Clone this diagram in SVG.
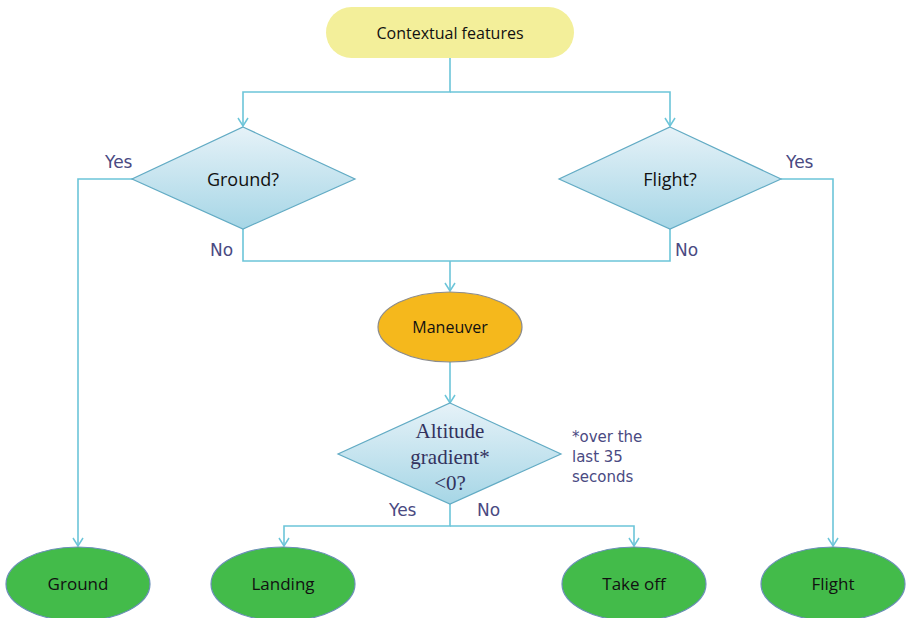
<svg xmlns="http://www.w3.org/2000/svg" width="906" height="618" viewBox="0 0 906 618">
  <defs>
    <linearGradient id="diamondFill" x1="0" y1="0" x2="0" y2="1">
      <stop offset="0" stop-color="#e6f2f8"/>
      <stop offset="1" stop-color="#a6d6e6"/>
    </linearGradient>
    <marker id="arrowDown" viewBox="0 0 12 12" refX="6" refY="11" markerWidth="12" markerHeight="12" markerUnits="userSpaceOnUse" orient="0">
      <path d="M1,3 L6,11 L11,3" fill="none" stroke="#6cc5d9" stroke-width="1.5"/>
    </marker>
  </defs>
  <style>
    .conn { fill: none; stroke: #6cc5d9; stroke-width: 1.6; }
    .diamond { fill: url(#diamondFill); stroke: #62abc4; stroke-width: 1.2; }
    .leaf { fill: #43bb4a; stroke: #6b8fb8; stroke-width: 1.2; }
    .label { font-family: "Open Sans", "Liberation Sans", sans-serif; fill: #111; text-anchor: middle; }
    .branch { font-family: "DejaVu Sans", "Liberation Sans", sans-serif; font-size: 17px; fill: #4a4a82; }
    .note { font-family: "DejaVu Sans", "Liberation Sans", sans-serif; font-size: 15px; fill: #4a4a82; }
    .serif { font-family: "Liberation Serif", serif; font-size: 21px; fill: #33335e; text-anchor: middle; }
  </style>

  <!-- connectors and their branch labels -->
  <g id="connectors">
    <path class="conn" d="M450,58 V92 H243 V126" marker-end="url(#arrowDown)"/>
    <path class="conn" d="M450,92 H670 V126" marker-end="url(#arrowDown)"/>
    <path class="conn" d="M133,179 H78 V546" marker-end="url(#arrowDown)"/>
    <path class="conn" d="M781,179 H833 V546" marker-end="url(#arrowDown)"/>
    <path class="conn" d="M243,229 V261 H670 V229"/>
    <path class="conn" d="M450,261 V291" marker-end="url(#arrowDown)"/>
    <path class="conn" d="M450,362 V403" marker-end="url(#arrowDown)"/>
    <path class="conn" d="M450,504 V526 H284 V546" marker-end="url(#arrowDown)"/>
    <path class="conn" d="M450,526 H634 V546" marker-end="url(#arrowDown)"/>
    <text class="branch" x="105" y="168">Yes</text>
    <text class="branch" x="786" y="168">Yes</text>
    <text class="branch" x="210" y="256">No</text>
    <text class="branch" x="675" y="256">No</text>
    <text class="branch" x="389" y="516">Yes</text>
    <text class="branch" x="477" y="516">No</text>
  </g>

  <g id="contextual-features">
    <rect x="326" y="7" width="248" height="51" rx="25.5" fill="#f3ef9a"/>
    <text class="label" x="450" y="39" font-size="16">Contextual features</text>
  </g>

  <g id="ground-decision">
    <polygon class="diamond" points="243,127 355,179 243,229 132,179"/>
    <text class="label" x="243" y="186" font-size="18">Ground?</text>
  </g>

  <g id="flight-decision">
    <polygon class="diamond" points="670,127 781,179 670,229 559,179"/>
    <text class="label" x="670" y="186" font-size="18">Flight?</text>
  </g>

  <g id="maneuver">
    <ellipse cx="450" cy="327" rx="72" ry="35" fill="#f5b81c" stroke="#8c8c8c" stroke-width="1.2"/>
    <text class="label" x="450" y="333" font-size="16">Maneuver</text>
  </g>

  <g id="altitude-decision">
    <polygon class="diamond" points="450,403 561,454 450,504 338,454"/>
    <text class="serif" x="450" y="438">Altitude</text>
    <text class="serif" x="450" y="464">gradient*</text>
    <text class="serif" x="450" y="490">&lt;0?</text>
  </g>

  <g id="footnote">
    <text class="note" x="572" y="442">*over the</text>
    <text class="note" x="572" y="462">last 35</text>
    <text class="note" x="572" y="482">seconds</text>
  </g>

  <g id="ground">
    <ellipse class="leaf" cx="78" cy="584" rx="72" ry="37"/>
    <text class="label" x="78" y="590" font-size="17">Ground</text>
  </g>

  <g id="landing">
    <ellipse class="leaf" cx="283" cy="584" rx="72" ry="37"/>
    <text class="label" x="283" y="590" font-size="17">Landing</text>
  </g>

  <g id="take-off">
    <ellipse class="leaf" cx="634" cy="584" rx="72" ry="37"/>
    <text class="label" x="634" y="590" font-size="17">Take off</text>
  </g>

  <g id="flight">
    <ellipse class="leaf" cx="833" cy="584" rx="72" ry="37"/>
    <text class="label" x="833" y="590" font-size="17">Flight</text>
  </g>
</svg>
